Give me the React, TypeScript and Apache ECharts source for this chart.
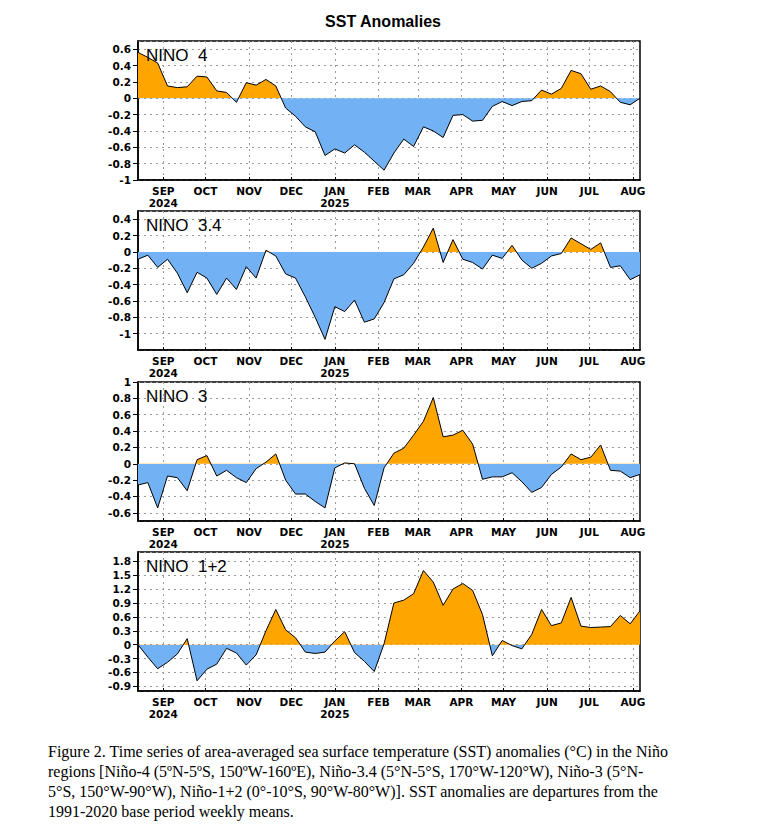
import React, { useEffect, useRef } from 'react';
import * as echarts from 'echarts';

// ---- data ----
const weekDates = [
  '2024-08-14', '2024-08-21', '2024-08-28', '2024-09-04', '2024-09-11', '2024-09-18', '2024-09-25',
  '2024-10-02', '2024-10-09', '2024-10-16', '2024-10-23', '2024-10-30', '2024-11-06', '2024-11-13',
  '2024-11-20', '2024-11-27', '2024-12-04', '2024-12-11', '2024-12-18', '2024-12-25', '2025-01-01',
  '2025-01-08', '2025-01-15', '2025-01-22', '2025-01-29', '2025-02-05', '2025-02-12', '2025-02-19',
  '2025-02-26', '2025-03-05', '2025-03-12', '2025-03-19', '2025-03-26', '2025-04-02', '2025-04-09',
  '2025-04-16', '2025-04-23', '2025-04-30', '2025-05-07', '2025-05-14', '2025-05-21', '2025-05-28',
  '2025-06-04', '2025-06-11', '2025-06-18', '2025-06-25', '2025-07-02', '2025-07-09', '2025-07-16',
  '2025-07-23', '2025-07-30', '2025-08-06',
];

const nino4 = [
  0.56, 0.5, 0.43, 0.15, 0.13, 0.14, 0.27, 0.26, 0.09, 0.07, -0.05, 0.19, 0.16, 0.23, 0.15, -0.12,
  -0.22, -0.35, -0.41, -0.7, -0.62, -0.67, -0.57, -0.66, -0.77, -0.88, -0.67, -0.5, -0.59, -0.35,
  -0.4, -0.48, -0.21, -0.2, -0.28, -0.27, -0.1, -0.04, -0.09, -0.04, -0.03, 0.1, 0.05, 0.12, 0.34,
  0.3, 0.11, 0.15, 0.08, -0.05, -0.08, 0.0,
];

const nino34 = [
  -0.09, -0.04, -0.19, -0.09, -0.26, -0.5, -0.25, -0.32, -0.52, -0.32, -0.46, -0.18, -0.32, 0.02,
  -0.05, -0.27, -0.32, -0.55, -0.8, -1.07, -0.67, -0.73, -0.59, -0.86, -0.82, -0.62, -0.33, -0.28,
  -0.14, 0.06, 0.29, -0.13, 0.15, -0.09, -0.13, -0.21, -0.04, -0.08, 0.08, -0.1, -0.2, -0.14, -0.05,
  -0.02, 0.17, 0.1, 0.03, 0.11, -0.19, -0.17, -0.34, -0.28,
];

const nino3 = [
  -0.26, -0.23, -0.54, -0.15, -0.17, -0.33, 0.05, 0.1, -0.15, -0.08, -0.17, -0.23, -0.06, 0.02,
  0.12, -0.2, -0.37, -0.37, -0.46, -0.54, -0.05, 0.01, 0.0, -0.3, -0.51, -0.05, 0.13, 0.19, 0.35,
  0.52, 0.81, 0.33, 0.35, 0.41, 0.24, -0.19, -0.16, -0.16, -0.11, -0.22, -0.35, -0.29, -0.13, -0.04,
  0.12, 0.05, 0.08, 0.23, -0.08, -0.09, -0.17, -0.13,
];

const nino12 = [
  0.0, -0.27, -0.52, -0.38, -0.2, 0.13, -0.78, -0.53, -0.42, -0.08, -0.18, -0.44, -0.22, 0.3, 0.76,
  0.32, 0.15, -0.16, -0.19, -0.16, 0.08, 0.28, -0.17, -0.36, -0.58, 0.02, 0.9, 0.96, 1.1, 1.6, 1.35,
  0.85, 1.2, 1.32, 1.17, 0.65, -0.24, 0.09, -0.02, -0.09, 0.22, 0.76, 0.41, 0.47, 1.02, 0.4, 0.37,
  0.38, 0.39, 0.63, 0.45, 0.73,
];

const panelLabels = ['NINO  4', 'NINO  3.4', 'NINO  3', 'NINO  1+2'];
const panelValues = [nino4, nino34, nino3, nino12];
const yMins = [-1, -1.2, -0.7, -1];
const yMaxs = [0.7, 0.5, 1, 2];
const ySteps = [0.2, 0.2, 0.2, 0.3];
const showMinLabels = [true, false, false, false];
const showMaxLabels = [false, false, true, false];

const monthNames = ['JAN', 'FEB', 'MAR', 'APR', 'MAY', 'JUN', 'JUL', 'AUG', 'SEP', 'OCT', 'NOV', 'DEC'];
const yearLabelDates = ['2024-09-01', '2025-01-01'];

const titleText = 'SST Anomalies';
const captionLines = [
  'Figure 2. Time series of area-averaged sea surface temperature (SST) anomalies (°C) in the Niño',
  'regions [Niño-4 (5ºN-5ºS, 150ºW-160ºE), Niño-3.4 (5°N-5°S, 170°W-120°W), Niño-3 (5°N-',
  '5°S, 150°W-90°W), Niño-1+2 (0°-10°S, 90°W-80°W)]. SST anomalies are departures from the',
  '1991-2020 base period weekly means.',
];

// daily category axis from first to last week
const days: string[] = [];
for (let t = Date.UTC(2024, 7, 14); t <= Date.UTC(2025, 7, 6); t += 86400000) {
  days.push(new Date(t).toISOString().slice(0, 10));
}

// ---- layout ----
const GRID_LEFT = 138;
const GRID_WIDTH = 502;
const GRID_HEIGHT = 139;
const panelTops = [41, 211, 382, 552];
const ORANGE = '#FFA500';
const BLUE = '#71B1F4';
const TICK_FONT = '"DejaVu Sans", "Liberation Sans", Arial, sans-serif';

const isMonthStart = (_i: number, v: string) => typeof v === 'string' && v.slice(8, 10) === '01';

function buildOption() {
  const grid = panelTops.map((top) => ({
    left: GRID_LEFT,
    top,
    width: GRID_WIDTH,
    height: GRID_HEIGHT,
    show: true,
    borderColor: '#000',
    borderWidth: 1.5,
    backgroundColor: 'transparent',
  }));

  const xAxis = panelTops.map((_t, i) => ({
    type: 'category',
    gridIndex: i,
    data: days,
    boundaryGap: false,
    axisLine: { show: true, onZero: false, lineStyle: { color: '#000', width: 1.5 } },
    axisTick: { show: true, inside: true, length: 3, interval: isMonthStart, lineStyle: { color: '#000' } },
    axisLabel: {
      interval: isMonthStart,
      margin: 5,
      color: '#000',
      fontFamily: TICK_FONT,
      fontWeight: 'bold',
      fontSize: 10.5,
      lineHeight: 12,
      formatter: (v: string) => {
        const m = parseInt(v.slice(5, 7), 10);
        let s = monthNames[m - 1];
        if (yearLabelDates.indexOf(v) >= 0) s += '\n' + v.slice(0, 4);
        return s;
      },
    },
    splitLine: { show: true, interval: isMonthStart, lineStyle: { color: '#9a9a9a', width: 1, type: [2, 4] } },
  }));

  const yAxis = panelTops.map((_t, i) => ({
    type: 'value',
    gridIndex: i,
    min: yMins[i],
    max: yMaxs[i],
    minInterval: ySteps[i],
    maxInterval: ySteps[i],
    splitNumber: 8,
    axisLine: { show: true, lineStyle: { color: '#000', width: 1.5 } },
    axisTick: { show: true, length: 5, lineStyle: { color: '#000' } },
    axisLabel: {
      showMinLabel: showMinLabels[i],
      showMaxLabel: showMaxLabels[i],
      margin: 7,
      color: '#000',
      fontFamily: TICK_FONT,
      fontWeight: 'bold',
      fontSize: 10.5,
    },
    splitLine: { show: true, lineStyle: { color: '#9a9a9a', width: 1, type: [2, 4] } },
  }));

  const series = panelValues.map((vals, i) => ({
    type: 'line',
    xAxisIndex: i,
    yAxisIndex: i,
    data: weekDates.map((d, j) => [d, vals[j]]),
    showSymbol: false,
    symbol: 'none',
    silent: true,
    lineStyle: { color: '#000', width: 1 },
    areaStyle: { opacity: 1 },
  }));

  const visualMap = panelValues.map((_v, i) => ({
    type: 'piecewise',
    show: false,
    seriesIndex: i,
    dimension: 1,
    pieces: [
      { gte: -10, lt: 0, color: BLUE },
      { gte: 0, lte: 10, color: ORANGE },
    ],
    outOfRange: { color: ORANGE },
  }));

  const graphic: any[] = [
    {
      type: 'text',
      x: 383,
      y: 21,
      style: {
        text: titleText,
        fill: '#000',
        font: 'bold 16px "Liberation Sans", Arial, sans-serif',
        textAlign: 'center',
        textVerticalAlign: 'middle',
      },
    },
  ];
  panelTops.forEach((top, i) => {
    graphic.push({
      type: 'text',
      x: GRID_LEFT + 8,
      y: top + 14,
      z: 100,
      style: {
        text: panelLabels[i],
        fill: '#000',
        font: '17px "Liberation Sans", Arial, sans-serif',
        textAlign: 'left',
        textVerticalAlign: 'middle',
      },
    });
  });
  captionLines.forEach((line, i) => {
    graphic.push({
      type: 'text',
      x: 48,
      y: 751 + i * 20,
      style: {
        text: line,
        fill: '#000',
        font: '16px "Liberation Serif", "Times New Roman", serif',
        textAlign: 'left',
        textVerticalAlign: 'middle',
      },
    });
  });

  return {
    animation: false,
    backgroundColor: '#fff',
    grid,
    xAxis,
    yAxis,
    visualMap,
    series,
    graphic,
  };
}

export default function App() {
  const ref = useRef<HTMLDivElement>(null);
  useEffect(() => {
    document.body.style.margin = '0';
    const chart = echarts.init(ref.current as HTMLDivElement, null, { renderer: 'svg' });
    chart.setOption(buildOption() as any);
    return () => {
      chart.dispose();
    };
  }, []);
  return <div ref={ref} style={{ width: 768, height: 831 }} />;
}
